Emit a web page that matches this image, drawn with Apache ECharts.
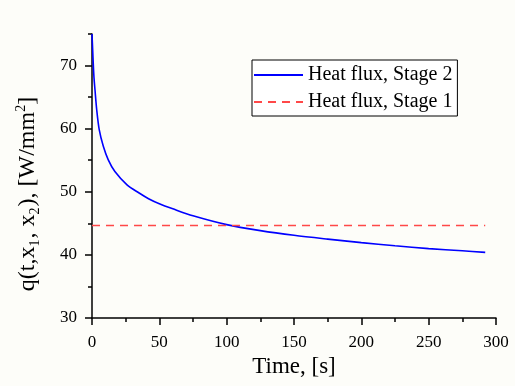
<!DOCTYPE html>
<html>
<head>
<meta charset="utf-8">
<script src="https://cdn.jsdelivr.net/npm/echarts@6/dist/echarts.min.js"></script>
<style>
    html, body { margin: 0; padding: 0; background: #fdfdf9; }
    #main { width: 515px; height: 386px; }
</style>
</head>
<body>
<div id="main"></div>
<script>
// values
let timeValues = [0, 0.5, 1, 1.5, 2.2, 3.5, 5.4, 8.4, 12, 17, 26, 35, 42, 50, 60, 75, 100, 125, 150, 175, 200, 225, 250, 275, 292];
let stage2Flux = [75, 72.5, 70, 68, 66.2, 63, 59.8, 57.2, 55.1, 53.2, 51.1, 49.8, 48.9, 48.1, 47.3, 46.2, 44.8, 43.85, 43.1, 42.5, 41.95, 41.45, 41.0, 40.65, 40.4];
let stage1Time = [0, 292];
let stage1Flux = [44.65, 44.65];
let yMajorTicks = [30, 40, 50, 60, 70];
let yMinorTicks = [35, 45, 55, 65, 75];
let seriesNames = ['Heat flux, Stage 2', 'Heat flux, Stage 1'];

function pairUp(xs, ys) {
    let out = [];
    for (let i = 0; i < xs.length; i++) {
        out.push([xs[i], ys[i]]);
    }
    return out;
}

function createFluxChart() {
    var chartDom = document.getElementById('main');
    var myChart = echarts.init(chartDom);
    var font = 'Liberation Serif';
    var option;

    option = {
    backgroundColor: '#fdfdf9',
    animation: false,
    textStyle: { fontFamily: font, color: '#000' },
    grid: { left: 92, right: 19, top: 34, bottom: 68 },
    legend: {
        orient: 'vertical',
        left: 252,
        top: 60,
        padding: [5, 5, 4, 1],
        itemGap: 7,
        itemWidth: 49,
        itemHeight: 14,
        borderColor: '#000',
        borderWidth: 1,
        borderRadius: 0,
        backgroundColor: '#fff',
        itemStyle: { opacity: 0 },
        textStyle: { fontFamily: font, fontSize: 20, color: '#000' },
        data: seriesNames
    },
    xAxis: {
        type: 'value',
        min: 0,
        max: 300,
        interval: 50,
        name: 'Time, [s]',
        nameLocation: 'middle',
        nameGap: 37,
        nameTextStyle: { fontFamily: font, fontSize: 23, color: '#000' },
        axisLine: { lineStyle: { color: '#000', width: 1.5 } },
        axisTick: { length: 7, lineStyle: { color: '#000', width: 1.5 } },
        minorTick: { show: true, splitNumber: 2, length: 4, lineStyle: { color: '#000', width: 1.5 } },
        axisLabel: { margin: 16, fontFamily: font, fontSize: 17, color: '#000' },
        splitLine: { show: false }
    },
    yAxis: [
        {
        type: 'value',
        position: 'left',
        min: 30,
        max: 75,
        interval: 5,
        name: '{a|q(t,x}{s|1}{a|, x}{s|2}{a|), [W/mm}{p|2}{a|]}',
        nameLocation: 'middle',
        nameGap: 50,
        nameTextStyle: {
            padding: [0, 36, 0, 0],
            rich: {
                a: { fontFamily: font, fontSize: 24, color: '#000', lineHeight: 28 },
                s: { fontFamily: font, fontSize: 14, color: '#000', lineHeight: 28, verticalAlign: 'bottom', padding: [0, 1, 0, 0] },
                p: { fontFamily: font, fontSize: 14, color: '#000', lineHeight: 28, verticalAlign: 'top' }
            }
        },
        axisLine: { lineStyle: { color: '#000', width: 1.5 } },
        axisTick: { length: 7, customValues: yMajorTicks, lineStyle: { color: '#000', width: 1.5 } },
        axisLabel: { margin: 15, customValues: yMajorTicks, fontFamily: font, fontSize: 17, color: '#000' },
        splitLine: { show: false }
        },
        {
        type: 'value',
        position: 'left',
        offset: 0,
        min: 30,
        max: 75,
        interval: 5,
        axisLine: { show: false },
        axisTick: { length: 4, customValues: yMinorTicks, lineStyle: { color: '#000', width: 1.5 } },
        axisLabel: { show: false },
        splitLine: { show: false }
        }
    ],
    series: [
        {
        name: seriesNames[0],
        type: 'line',
        symbol: 'none',
        smooth: 0.3,
        yAxisIndex: 0,
        data: pairUp(timeValues, stage2Flux),
        lineStyle: { color: '#0000ff', width: 1.6 },
        itemStyle: { color: '#0000ff' }
        },
        {
        name: seriesNames[1],
        type: 'line',
        symbol: 'none',
        yAxisIndex: 0,
        data: pairUp(stage1Time, stage1Flux),
        lineStyle: { color: '#ff4848', width: 1.5, type: [8, 6] },
        itemStyle: { color: '#ff4848' }
        }
    ]
    };

    option && myChart.setOption(option);
}

createFluxChart();
</script>
</body>
</html>
